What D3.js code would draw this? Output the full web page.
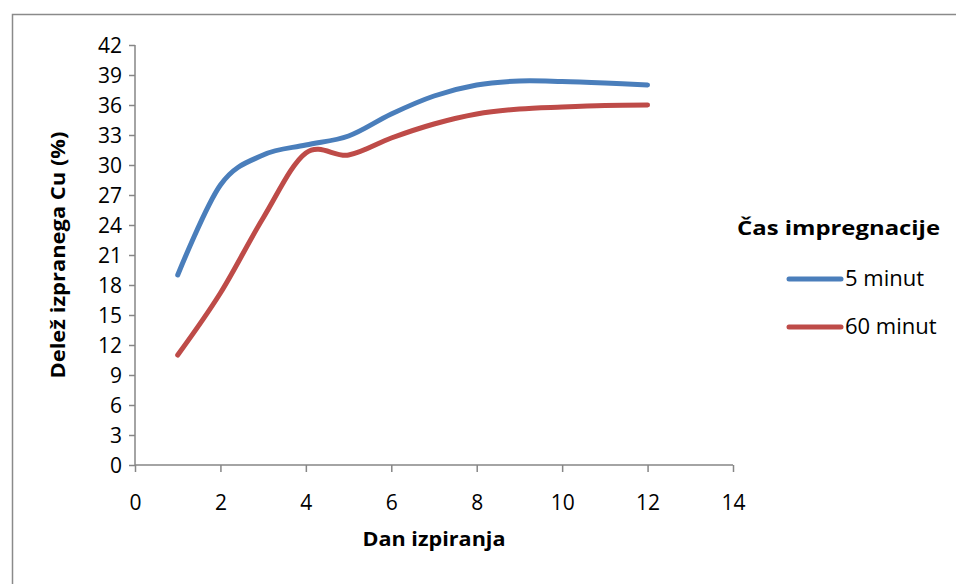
<!DOCTYPE html>
<html><head><meta charset="utf-8">
<script src="https://cdn.jsdelivr.net/npm/d3@7"></script>
<style>body{margin:0;background:#fff}svg{display:block}</style>
</head><body><svg id="c" width="956" height="584"></svg>
<script>
const days = [1,2,3,4,5,6,7,8,9,10,11,12];
const min5 = [19,28,31,32,32.9,35.1,36.9,38,38.4,38.35,38.2,38];
const min60 = [11,17.2,24.7,31.2,31,32.7,34.1,35.1,35.6,35.8,35.95,36];
const seriesNames = ["5 minut","60 minut"];
const colors = ["#4A7EBB","#BE4B48"];
const xTicks = [0,2,4,6,8,10,12,14];
const yTicks = d3.range(0,43,3);
const font = "'Open Sans', Lato, sans-serif";

const svg = d3.select("#c");
svg.append("rect").attr("x",12.5).attr("y",14.5).attr("width",960).attr("height",600)
  .attr("fill","#fff").attr("stroke","#8a8a8a").attr("stroke-width",1.5);

const x = d3.scaleLinear().domain([0,14]).range([135,733]);
const y = d3.scaleLinear().domain([0,42]).range([465,45]);

const gx = svg.append("g").attr("transform","translate(0,465)")
  .call(d3.axisBottom(x).tickValues(xTicks).tickSize(7).tickPadding(10).tickFormat(d3.format("d")));
const gy = svg.append("g").attr("transform","translate(135,0)")
  .call(d3.axisLeft(y).tickValues(yTicks).tickSize(6).tickPadding(7).tickFormat(d3.format("d")));
[gx,gy].forEach(g=>{
  g.attr("font-size",null);
  g.selectAll("path,line").attr("stroke","#868686").attr("stroke-width",1.5);
  g.selectAll("text").attr("font-family",font).style("font-size","21px").attr("fill","#000");
});
gx.selectAll("text").attr("dy",null).attr("y",null).attr("transform","translate(0,45)");
gy.selectAll("text").attr("dy","0.36em");
gy.select(".domain").attr("d","M0,465V45");
gx.select(".domain").attr("d","M135,0H733");

const line = d3.line().x((d,i)=>x(days[i])).y(d=>y(d)).curve(d3.curveCatmullRom.alpha(0));
[min5,min60].forEach((s,k)=>{
  svg.append("path").attr("d",line(s)).attr("fill","none").attr("stroke",colors[k])
    .attr("stroke-width",5).attr("stroke-linecap","round").attr("stroke-linejoin","round");
});

svg.append("text").attr("x",434).attr("y",546).attr("text-anchor","middle")
  .attr("font-family",font).attr("font-weight","bold").attr("font-size",19)
  .attr("textLength",143).attr("lengthAdjust","spacingAndGlyphs").text("Dan izpiranja");
svg.append("text").attr("transform","translate(65,255) rotate(-90)").attr("text-anchor","middle")
  .attr("font-family",font).attr("font-weight","bold").attr("font-size",19)
  .attr("textLength",247).attr("lengthAdjust","spacingAndGlyphs").text("Delež izpranega Cu (%)");

svg.append("text").attr("x",737).attr("y",235).attr("font-family",font).attr("font-weight","bold")
  .attr("font-size",20).attr("textLength",203).attr("lengthAdjust","spacingAndGlyphs").text("Čas impregnacije");
seriesNames.forEach((n,k)=>{
  const yy = 279 + k*48;
  svg.append("line").attr("x1",789).attr("x2",841).attr("y1",yy).attr("y2",yy)
    .attr("stroke",colors[k]).attr("stroke-width",5).attr("stroke-linecap","round");
  svg.append("text").attr("x",845).attr("y",yy+7).attr("font-family",font).attr("font-size",22).text(n);
});
</script></body></html>
